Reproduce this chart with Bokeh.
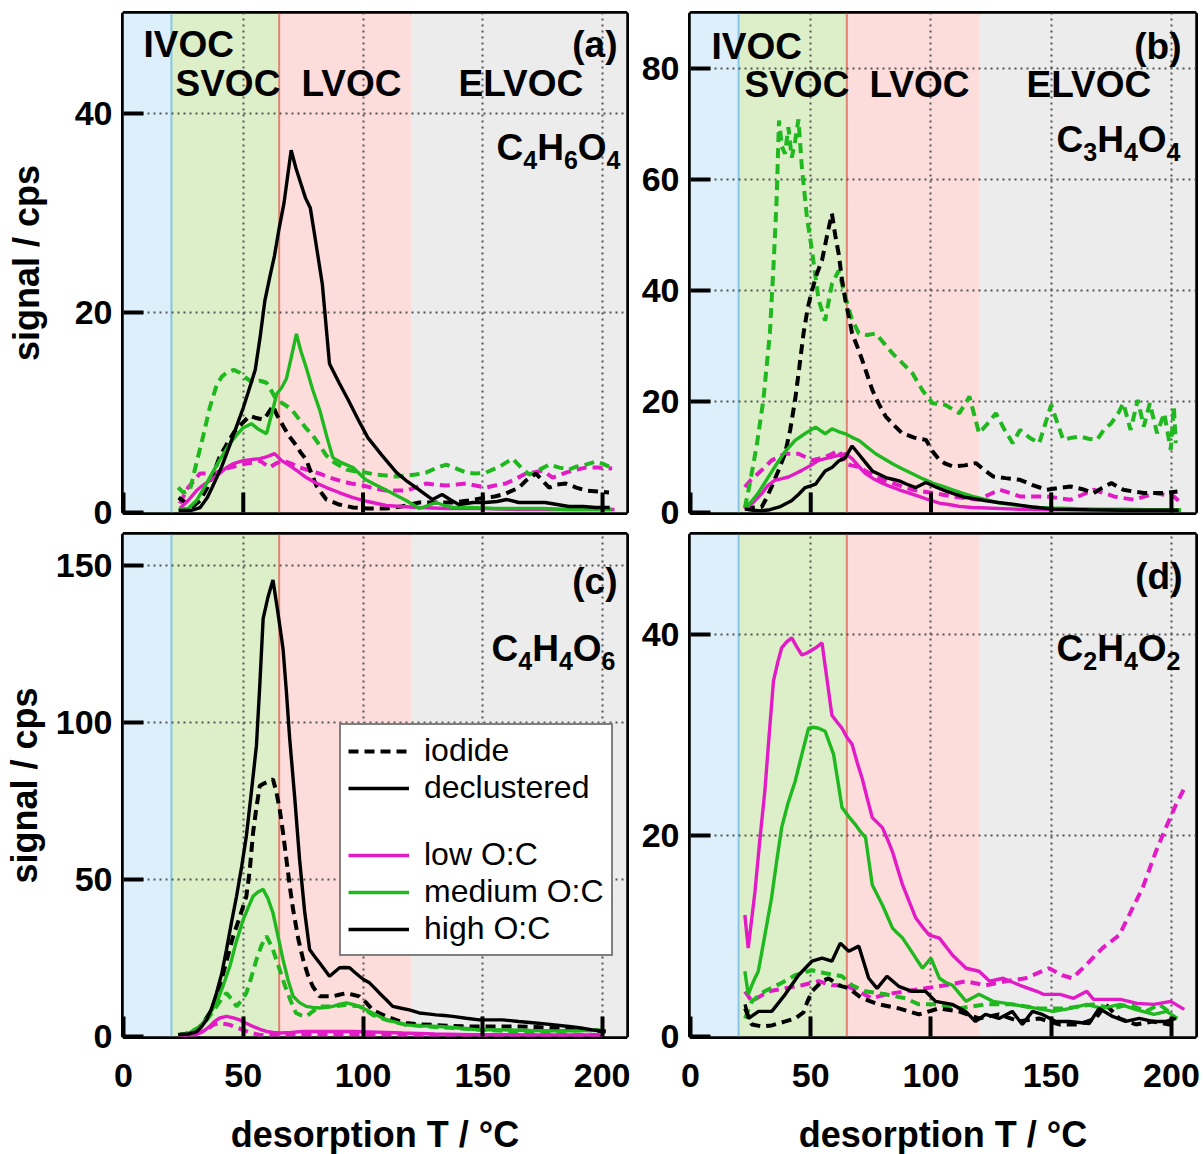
from bokeh.plotting import figure
from bokeh.models import Range1d, FixedTicker, Label, Legend, LegendItem
from bokeh.layouts import column, row
from bokeh.embed import file_html
from bokeh.resources import INLINE

FONT = "Liberation Sans"
MAGENTA = "#E31BC6"
GREEN = "#1FB81F"
BLACK = "#000000"

# volatility regions (desorption T, degC)
REGION_NAMES = ["IVOC", "SVOC", "LVOC", "ELVOC"]
REGION_LEFT = [0, 20, 65, 120]
REGION_RIGHT = [20, 65, 120, 210]
REGION_COLORS = ["#DCEFFB", "#DCEFC9", "#FDDCDC", "#ECECEC"]
BOUNDARY_T = [20, 65]
BOUNDARY_COLORS = ["#86C6E6", "#E0846F"]

X_TICKS = [0, 50, 100, 150, 200]

# ---------------- panel (a) C4H6O4 ----------------
A_LOW_IOD_T = [23.5, 27, 31.9, 37.4, 41, 44.4, 48, 51.3, 54, 56.9, 61, 63.5, 66.6, 70, 73.5, 78, 81.9, 86, 90.2, 95, 100, 105, 109.7, 114, 118, 122, 126.3, 130, 134.7, 139, 143, 147, 151.3, 155, 159.6, 164, 168, 171, 175, 179.2, 184.7, 189, 193, 198, 204]
A_LOW_IOD_S = [0.9, 2.5, 3.9, 3.9, 4.2, 4.5, 4.7, 4.9, 5.0, 5.2, 4.5, 4.9, 5.2, 4.9, 4.5, 4.2, 3.9, 3.5, 3.2, 2.9, 2.7, 2.4, 2.2, 2.2, 2.2, 2.5, 2.9, 2.8, 2.7, 2.8, 2.9, 2.7, 2.5, 2.7, 2.9, 3.4, 3.9, 4.0, 4.2, 3.5, 4.0, 4.3, 4.5, 4.5, 4.4]
A_MED_IOD_T = [22.8, 25, 27.7, 30, 33.3, 36, 38.8, 41, 43, 46, 48.5, 51, 54.1, 57, 59.7, 61.5, 63.8, 66, 68, 70.5, 73.5, 76, 79.1, 82, 84.7, 88, 93, 97, 101.3, 105, 109.7, 114, 118, 122, 126.3, 130, 134.7, 139, 143, 147, 151.3, 157, 162.4, 166, 169.4, 173, 177.7, 182, 186, 189, 193, 197.2, 200, 202.7]
A_MED_IOD_S = [2.5, 2.0, 2.2, 4.5, 7.7, 10.5, 12.7, 13.6, 14, 14.3, 14, 13.5, 13, 13.2, 13, 12.3, 11.3, 11, 10.7, 10.2, 9.3, 8.5, 7.7, 6.7, 5.7, 5.0, 4.3, 4.1, 4.0, 3.8, 3.7, 3.6, 3.7, 3.8, 4.0, 4.4, 4.8, 4.4, 4.0, 3.9, 4.0, 4.6, 5.4, 4.5, 3.8, 4.2, 4.8, 4.5, 4.3, 4.6, 4.8, 5.1, 4.9, 4.6]
A_HIGH_IOD_T = [23, 26, 29, 32, 35, 38, 40, 43, 46, 49, 52.7, 55, 58.3, 60, 62.4, 64, 66.6, 69, 72.2, 74, 76.3, 78, 80.5, 82.5, 84.7, 90, 95.8, 102, 109.7, 116, 123.5, 130, 137.4, 144, 151.3, 155, 159.6, 165.2, 168, 172.2, 177.7, 181, 184.7, 189, 193, 198, 202.7]
A_HIGH_IOD_S = [1.5, 1.0, 0.6, 1.2, 2.5, 4.2, 5.5, 6.8, 8.0, 8.8, 9.7, 9.5, 9.3, 9.8, 10.7, 9.8, 8.7, 7.7, 6.7, 6.0, 5.3, 4.2, 2.7, 2.0, 1.3, 0.8, 0.5, 0.4, 0.4, 0.6, 1.0, 1.0, 1.0, 1.2, 1.5, 1.6, 1.9, 2.5, 3.2, 3.9, 2.5, 2.8, 2.9, 2.5, 2.2, 2.1, 2.0]
A_LOW_DEC_T = [23.5, 27, 30.5, 33, 36, 40, 43, 46, 49.9, 53, 56.9, 60, 63.1, 66, 69.4, 73, 76.3, 80, 84.7, 90, 95.8, 102, 109.7, 116, 123.5, 135, 150, 165, 180, 195, 205]
A_LOW_DEC_S = [0.4, 1.2, 2.2, 2.7, 3.2, 3.9, 4.5, 4.9, 5.2, 5.3, 5.4, 5.6, 5.9, 5.2, 4.7, 4.1, 3.5, 3.0, 2.5, 2.0, 1.5, 1.1, 0.7, 0.6, 0.5, 0.4, 0.4, 0.3, 0.3, 0.3, 0.3]
A_MED_DEC_T = [23, 27, 30.5, 33, 36, 40, 44.4, 47, 50, 53.4, 56, 59.7, 62, 64, 66, 68, 70, 72.2, 74, 76.3, 79, 82, 85, 87.4, 91, 95.8, 101, 105, 110, 114, 118, 123.5, 127, 130.5, 134, 137.4, 145, 155, 165, 175, 185, 195, 204]
A_MED_DEC_S = [0.3, 0.4, 1.2, 2.2, 3.5, 5.2, 6.9, 7.7, 8.5, 8.9, 8.4, 7.9, 10, 11.9, 12.5, 13.4, 15.5, 17.9, 16.2, 14.5, 12.3, 10.2, 7.5, 5.5, 5, 4.5, 3.3, 2.8, 2.2, 1.7, 1.2, 0.4, 0.7, 1.0, 0.7, 0.5, 0.5, 0.4, 0.4, 0.4, 0.3, 0.3, 0.3]
A_HIGH_DEC_T = [23, 28, 32, 35, 37, 41, 44, 47, 50, 52, 55, 57, 59, 61, 63, 65, 67, 70, 72, 74, 76, 78, 80, 83, 86, 90, 94, 98, 102, 108, 114, 118, 121, 125, 129, 133, 137, 140, 146, 151, 156, 160, 165, 170, 176, 181, 186, 192, 197, 203]
A_HIGH_DEC_S = [0.2, 0.2, 0.5, 1.5, 2.5, 4.6, 6.5, 8.5, 10.5, 12, 14.3, 17.5, 21.2, 23.5, 25.7, 28.5, 31, 36.3, 34.5, 33, 31.5, 30.5, 27.5, 22.9, 14.9, 13, 11.2, 9.3, 7.5, 5.7, 4, 3.2, 2.7, 2, 1.3, 1.8, 1.2, 0.8, 1, 1, 1.1, 1.3, 1, 1, 1, 0.8, 0.6, 0.6, 0.5, 0.5]

# ---------------- panel (b) C3H4O4 ----------------
B_LOW_IOD_T = [22.6, 25, 28, 31, 33.7, 36.5, 39.3, 42, 44.9, 47.7, 50.5, 53.3, 56, 59, 61.6, 64.4, 67, 70, 73.5, 77, 80.5, 84, 88, 92.3, 96.5, 100.7, 105, 109, 114, 120, 124, 128.6, 133, 137, 142, 148, 153, 158, 163, 167.6, 172, 176, 180, 184.5, 189, 193, 197, 201, 204]
B_LOW_IOD_S = [4.6, 5.8, 7, 8.2, 9.4, 10, 10.6, 10.6, 10.6, 10, 9.4, 9.7, 10, 10.6, 11.2, 8.8, 8.5, 8.2, 7.3, 6.4, 5.8, 5.3, 4.7, 4.1, 3.8, 3.5, 3.2, 2.9, 2.6, 2.3, 3.2, 4.1, 3.5, 2.9, 2.9, 2.9, 2.6, 2.3, 3.2, 4.1, 3.5, 2.9, 2.6, 2.3, 2.9, 3.5, 3.2, 2.9, 1.7]
B_MED_IOD_T = [22.6, 24.7, 27.5, 30.3, 33, 34.5, 35.8, 36.8, 38, 39.3, 40.7, 42.1, 43.5, 44.9, 46.3, 48.4, 50.5, 53.3, 56, 58.8, 61.6, 64.4, 67, 70, 73.5, 77, 80.5, 84, 88, 92.3, 96.5, 100.7, 106, 111.8, 116, 120, 123.5, 127, 130.5, 134, 137, 141, 145, 150, 155, 158.5, 162, 165.5, 169, 172, 175, 178, 180, 183, 186, 188.5, 191, 194, 197, 199.7, 201, 201.8]
B_MED_IOD_S = [0.8, 5.3, 12, 20.3, 32.3, 44.3, 56.3, 70.7, 66, 64.7, 69.5, 64, 67, 70.9, 62.3, 53.3, 47.3, 38.3, 34.6, 41.2, 43.6, 38.9, 35, 32.3, 32, 32.3, 30.5, 28.7, 27, 25.1, 22, 19.7, 19.4, 17.9, 20.9, 14.3, 16, 17.9, 15, 12.5, 14.9, 13.5, 12.5, 19.4, 13.1, 13.5, 13.7, 13.3, 13.1, 15, 16.1, 18, 19.7, 14.9, 20.3, 15.5, 19.7, 14.3, 17.9, 11.3, 19.1, 12.5]
B_HIGH_IOD_T = [22.6, 26, 29.6, 31.5, 33.7, 36.5, 39.3, 41.5, 43.5, 45.2, 47, 48.8, 50.5, 52.5, 54.7, 56.8, 58.8, 60.2, 61.6, 63, 64.4, 66, 67.2, 69.3, 71.4, 73.5, 75.6, 78.4, 81.2, 84.5, 88, 93, 97.9, 100.7, 103.5, 106, 109, 114, 118.8, 122, 125.8, 131, 137, 142, 148, 153, 158, 163, 167.6, 171, 175, 180, 184, 188.5, 192, 195.5, 199, 202.5]
B_HIGH_IOD_S = [0.8, 0.9, 1, 2.5, 4.6, 7.5, 10.6, 15, 20.3, 26, 32.3, 37, 40, 43, 45.5, 50, 53.9, 50, 46.7, 42, 38.3, 35, 32.3, 30, 27.5, 24.8, 22.1, 19.5, 17.3, 15.8, 14.3, 13.5, 13.1, 11, 9.5, 8.8, 8.3, 8.5, 8.9, 7.7, 6.5, 6.2, 5.9, 5.0, 4.1, 4.4, 4.7, 4.2, 3.5, 4.4, 5.3, 4.1, 3.8, 3.5, 3.5, 3.5, 3.6, 3.8]
B_LOW_DEC_T = [22.6, 26, 29.6, 32, 35, 38, 40.7, 43.5, 46.3, 50, 53.3, 56, 58.8, 61.5, 64.4, 67.2, 70, 72.8, 76, 79.8, 83, 86.8, 91, 95, 99, 103.5, 108, 111.8, 117, 123, 135, 150, 165, 180, 195, 204]
B_LOW_DEC_S = [0.5, 1.8, 3.4, 4.8, 5.8, 6.1, 6.4, 7, 7.6, 8.5, 9.4, 9.7, 10, 10.3, 10.6, 9.7, 8.3, 7, 6.1, 5.3, 4.7, 4.1, 3.5, 2.9, 2.3, 1.7, 1.4, 1.1, 0.9, 0.8, 0.6, 0.5, 0.5, 0.4, 0.4, 0.4]
B_MED_DEC_T = [22.6, 25, 28, 31.5, 35, 39, 43.5, 47.5, 52, 56, 58.8, 61.5, 64.4, 67, 70, 73.5, 77, 80.5, 84, 88, 92.3, 96.5, 100.7, 105, 109, 113, 117.4, 123, 128.6, 134, 139.7, 145, 151, 160, 170, 180, 190, 200, 204]
B_MED_DEC_S = [0.8, 1.8, 3.4, 5.8, 8.2, 10.8, 13, 14.2, 15.4, 14.2, 15.1, 14.6, 14.2, 13.6, 13, 11.8, 10.6, 9.7, 8.8, 7.9, 7, 6.1, 5.3, 4.7, 4.1, 3.5, 2.9, 2.3, 1.7, 1.4, 1.1, 0.9, 0.8, 0.7, 0.6, 0.6, 0.5, 0.5, 0.5]
B_HIGH_DEC_T = [22.6, 26, 29.6, 33, 37, 42, 45, 47.7, 50, 52, 54, 56, 58.8, 61.6, 64.4, 67.2, 70, 72.8, 75.6, 78.4, 81.2, 84, 86.8, 90, 93.7, 97.9, 102, 106, 110, 114.6, 119, 123, 128, 134, 142, 151, 165, 180, 195, 203]
B_HIGH_DEC_S = [0.6, 0.4, 0.3, 0.5, 1.0, 2.1, 3.3, 4.5, 4.8, 5.1, 6.3, 7.5, 8.1, 9.3, 9.9, 12.0, 10.5, 9.0, 7.5, 6.9, 6.3, 6.0, 5.7, 5.1, 4.5, 5.4, 4.6, 3.9, 3.3, 2.7, 2.4, 2.1, 1.8, 1.5, 1.0, 0.6, 0.5, 0.4, 0.4, 0.4]

# ---------------- panel (c) C4H4O6 ----------------
C_LOW_IOD_T = [22.8, 30, 34.7, 37.4, 40.2, 42.5, 44.4, 47, 50, 53, 56.9, 62, 70, 85, 100, 120, 140, 160, 180, 200]
C_LOW_IOD_S = [0.3, 0.8, 2.1, 3.7, 4.3, 4.0, 3.7, 2.9, 2.1, 1.2, 0.5, 0.5, 0.6, 0.6, 0.6, 0.5, 0.5, 0.5, 0.5, 0.5]
C_MED_IOD_T = [22.8, 27, 31.9, 35.5, 38.8, 41, 43, 45, 47.2, 49.3, 51.3, 53.4, 55.5, 57.6, 59.7, 61, 62.4, 63.8, 65.2, 66.6, 68, 70, 72, 74, 76.3, 79, 81.9, 84.6, 87.4, 90, 93, 95.8, 98.5, 101.3, 104, 106.9, 109.7, 114, 118, 127, 137.4, 151, 165, 179, 193, 200]
C_MED_IOD_S = [0.5, 1, 3, 6, 9.6, 12, 13.9, 12, 9.6, 11.5, 13.9, 19, 24.5, 29, 32, 30, 27.7, 24.5, 21.3, 18, 14.9, 11, 7.5, 6.8, 6.4, 8, 9.6, 9.6, 9.6, 9.8, 10.1, 9.8, 9.6, 8.3, 6.9, 6.1, 5.3, 4.5, 3.7, 3.2, 2.7, 2.1, 1.6, 1.6, 2.1, 2.0]
C_HIGH_IOD_T = [22.8, 27, 30.5, 33, 36, 38, 40.2, 43, 45.8, 48.5, 51.3, 52.7, 54.1, 55.5, 56.9, 58.3, 59.7, 61, 62.4, 63.8, 65.2, 66.6, 68, 69.4, 70.8, 73, 75, 77, 79, 81.9, 84.6, 87.4, 90, 93, 95.8, 98.5, 101.3, 104, 106.9, 109.7, 114, 118, 123, 129, 136, 143, 151.3, 158, 165, 172, 179, 186, 193, 201.3]
C_HIGH_IOD_S = [0.5, 1, 2.1, 4, 7.5, 11, 16, 24, 32, 38, 44.7, 53, 65, 73, 79.9, 80.5, 81, 81.5, 82, 78, 72.5, 65, 56.5, 48, 40.5, 31, 24.5, 19.5, 16, 12.8, 12.8, 12.8, 13.3, 13.8, 13.3, 12.8, 10.8, 8.5, 7.4, 6.4, 5.2, 4.3, 3.9, 3.7, 3.4, 3.2, 3.2, 3.2, 3.2, 3.0, 2.7, 2.4, 2.1, 1.6]
C_LOW_DEC_T = [22.8, 30, 33, 36, 38, 40.2, 43, 45.5, 48.5, 51, 54.1, 57, 59.7, 62.5, 65.2, 70, 75, 85, 95.8, 106, 116.6, 130, 145, 160, 175, 190, 200]
C_LOW_DEC_S = [0.3, 0.5, 1.5, 3.2, 4.8, 5.9, 6.4, 6, 5.3, 4.3, 3.2, 2.3, 1.6, 1.3, 1.1, 1.3, 1.6, 1.6, 1.6, 1.4, 1.1, 0.8, 0.6, 0.6, 0.5, 0.5, 0.5]
C_MED_DEC_T = [22.8, 27, 31.9, 35, 38.8, 41.5, 44.4, 47, 50, 52, 54.1, 56, 58.3, 60.3, 62.4, 64.5, 66.6, 68.7, 70.8, 73.5, 76.3, 79, 81.9, 84.6, 87.4, 90, 93, 95.8, 98.5, 101.3, 104, 106.9, 109.7, 114, 118, 124, 131.8, 140, 148.5, 158, 170, 180, 190, 200]
C_MED_DEC_S = [0.5, 1, 3.2, 6, 10.7, 16, 22.4, 30, 37.3, 41, 44.7, 46, 46.9, 44, 39.4, 32, 24.5, 18, 12.8, 10.8, 9.6, 9.3, 9.1, 9.3, 9.6, 10.2, 10.7, 10.2, 9.6, 8.5, 7.5, 6.4, 5.3, 4.5, 3.7, 3.4, 3.2, 2.7, 2.1, 2.1, 1.9, 1.8, 1.8, 2.1]
C_HIGH_DEC_T = [22.8, 27, 30.5, 32.5, 34.7, 36.8, 38.8, 41, 43, 45, 47.2, 49.3, 51.3, 53.4, 55.5, 56.9, 58.3, 60.3, 62.4, 64.5, 66.6, 68, 69.4, 71.5, 73.5, 75.6, 77.7, 79.8, 81.9, 84, 86, 88, 90.2, 92.3, 94.4, 96.5, 98.5, 100.6, 102.7, 104.8, 106.9, 109.6, 112.4, 116, 119.3, 123.5, 127, 130.5, 134, 137.4, 143, 148.5, 153, 158.3, 165, 172, 179, 186, 191, 195.7, 201.3]
C_HIGH_DEC_S = [0.5, 0.8, 1.5, 3, 5.3, 9, 13.8, 20, 27.7, 36, 44.7, 54, 63.9, 78, 92.7, 112, 133.2, 140, 145.5, 135, 123.6, 110, 94.8, 76, 56.5, 40, 27.7, 25.5, 23.4, 21.3, 19.2, 20.5, 21.9, 22, 21.9, 20.5, 19.2, 18, 17.1, 15.5, 13.8, 11.8, 9.6, 9, 8.5, 7.5, 7.2, 6.9, 6.7, 6.4, 5.8, 5.3, 5.3, 5.3, 4.8, 4.3, 3.8, 3.2, 2.7, 2.1, 1.6]

# ---------------- panel (d) C2H4O2 ----------------
D_LOW_IOD_T = [22.7, 25.5, 32.4, 39.4, 46.3, 53.3, 58.8, 64.4, 69.9, 75.5, 81, 89.4, 97.7, 106, 114.4, 122.7, 131, 139.4, 149.1, 154.6, 158.8, 164.4, 171.3, 178.3, 182.4, 188, 193.5, 197.7, 201.9, 205.3]
D_LOW_IOD_S = [4.5, 3.5, 4.5, 4.8, 5.1, 5.5, 5.1, 5.1, 4.5, 3.8, 4.2, 4.5, 4.8, 5.1, 5.5, 5.1, 5.5, 5.8, 6.8, 6.1, 5.8, 7.1, 8.8, 10.1, 12.1, 14.8, 18.4, 20.8, 23.1, 24.7]
D_MED_IOD_T = [22.7, 25.5, 30.8, 37.6, 43.5, 50.5, 56, 63, 67.2, 72.7, 81, 89.4, 95, 103.3, 111.6, 122.7, 133.8, 145, 156, 167.1, 175.5, 182.4, 189.4, 194.9, 200.5]
D_MED_IOD_S = [1.8, 3.5, 4.5, 5.3, 6.1, 6.6, 6.3, 6.0, 5.1, 4.5, 4.2, 3.8, 3.2, 3.2, 2.8, 3.2, 3.2, 2.8, 2.8, 3.2, 2.8, 3.2, 2.5, 3.2, 2.2]
D_HIGH_IOD_T = [22.7, 25.5, 29.7, 33.8, 39.4, 43.5, 47, 48.5, 50.5, 54.7, 57.4, 61.6, 65.8, 71.3, 78.3, 86.6, 95, 103.3, 111.6, 120, 128.3, 136.6, 145, 153.3, 161.6, 168.5, 172.7, 178.3, 185.2, 192.2, 199, 201.9]
D_HIGH_IOD_S = [2.8, 1.2, 1.0, 1.1, 1.5, 1.8, 2.4, 3.4, 4.5, 5.5, 5.8, 5.1, 4.8, 3.8, 3.2, 2.8, 2.2, 2.8, 2.5, 1.8, 2.2, 1.5, 1.8, 1.2, 1.2, 1.8, 3.2, 1.8, 1.2, 1.5, 1.2, 1.5]
D_LOW_DEC_T = [22.6, 24, 26.8, 28.8, 30.9, 32.7, 34.5, 36.2, 37.9, 40, 42.1, 44.2, 46.3, 48.4, 50.5, 52.6, 54.7, 56.8, 58.8, 61, 63, 65, 67.2, 69.3, 71.4, 73.5, 75.6, 77.7, 79.8, 82, 84, 86, 88.2, 91, 93.7, 96.5, 99.3, 103.5, 109, 114.6, 120, 124.4, 130, 137, 144, 146.7, 153.7, 159.3, 164.8, 167.6, 173, 178.8, 185.7, 192.7, 199.7, 205.3]
D_LOW_DEC_S = [12.1, 8.8, 14.4, 19.5, 24.4, 30, 35.4, 37.2, 38.7, 39.3, 39.7, 38.8, 38, 38.2, 38.5, 38.8, 39.2, 35.5, 32, 31.3, 30.7, 29.8, 29.1, 27.3, 25.7, 23.7, 21.8, 21.3, 20.8, 19.6, 18.4, 16.8, 15.1, 13.4, 11.8, 10.9, 10.1, 9.8, 8.1, 6.8, 6.5, 5.5, 5.8, 5.1, 4.5, 4.2, 4.2, 3.8, 4.5, 3.7, 3.7, 3.7, 3.3, 3.2, 3.5, 2.7]
D_MED_DEC_T = [22.6, 24, 26, 28.2, 31, 33.7, 35.8, 37.9, 40.5, 43.5, 46.3, 49.1, 51, 53.3, 56, 59.5, 61.3, 63, 65.8, 68.6, 70.7, 72.8, 75.6, 77.7, 79.8, 82, 84, 86, 88.2, 91, 93.7, 96.5, 100, 103.5, 106, 109, 111.8, 114.6, 120, 125.8, 134, 144, 150.9, 158, 164.8, 171, 178.8, 185, 192.7, 198, 202.5]
D_MED_DEC_S = [6.5, 4.2, 5.4, 6.5, 10.2, 13.8, 17.4, 20.8, 23.2, 25.4, 28.1, 30.7, 30.8, 30.7, 30.4, 28.1, 25.4, 22.8, 21.9, 21.1, 20.4, 19.8, 15.1, 14.1, 13.1, 11.9, 10.8, 10.3, 9.8, 8.8, 7.8, 6.8, 7.8, 5.8, 5.4, 5.1, 4.3, 3.5, 4.2, 3.5, 3.2, 2.8, 2.5, 2.8, 3.2, 2.8, 3.2, 2.7, 2.2, 2.5, 1.8]
D_HIGH_DEC_T = [22.7, 24.1, 28.3, 33.8, 39.4, 44.9, 50.5, 54.7, 58.8, 62.3, 65.8, 70, 74.1, 77.6, 81.7, 86.6, 92.1, 97.7, 101.9, 108.8, 114.4, 118.5, 122.7, 128.3, 133.8, 138, 142.2, 146.3, 151.9, 157.4, 165.8, 169.9, 175.5, 181, 186.6, 192.2, 197.7, 201.9]
D_HIGH_DEC_S = [3.2, 1.8, 2.5, 2.5, 4.2, 6.1, 7.5, 7.8, 7.5, 9.3, 8.5, 9.0, 5.8, 4.8, 6.0, 5.0, 4.5, 4.5, 3.5, 3.2, 2.5, 1.5, 2.2, 1.8, 2.5, 1.2, 2.5, 2.2, 1.5, 1.5, 1.3, 2.8, 2.0, 1.5, 1.8, 1.5, 1.5, 1.8]

LEGEND_LABELS = ["iodide", "declustered", " ", "low O:C", "medium O:C", "high O:C"]

DASH = "10 6"
SOLID_W = 3.4
DASH_W = 4

WIDTHS = {"C": 0.722, "H": 0.722, "O": 0.778}
TICK_FONT = "34px"
TICK_LEN = 20


def make_fig(fw, fh, ymax, yticks, left, right, top, bottom, show_x, ylabel, ylabel_standoff):
    p = figure(frame_width=fw, frame_height=fh, x_range=Range1d(0, 210),
               y_range=Range1d(0, ymax), output_backend="svg", toolbar_location=None,
               min_border_left=left, min_border_right=right, min_border_top=top,
               min_border_bottom=bottom)
    p.background_fill_color = "white"
    p.border_fill_color = "white"
    p.outline_line_color = "black"
    p.outline_line_width = 5
    # volatility regions
    p.quad(left=REGION_LEFT, right=REGION_RIGHT, bottom=0, top=ymax,
           fill_color=REGION_COLORS, line_color=None, level="image")
    p.segment(x0=BOUNDARY_T, x1=BOUNDARY_T, y0=0, y1=ymax,
              line_color=BOUNDARY_COLORS, line_width=2, level="image")
    p.xaxis.ticker = FixedTicker(ticks=X_TICKS)
    p.yaxis.ticker = FixedTicker(ticks=yticks)
    for ax in (p.xaxis[0], p.yaxis[0]):
        ax.axis_line_color = None
        ax.major_tick_in = TICK_LEN
        ax.major_tick_out = 0
        ax.major_tick_line_width = 4
        ax.major_tick_line_color = "black"
        ax.minor_tick_line_color = None
        ax.major_label_text_font = FONT
        ax.major_label_text_font_style = "bold"
        ax.major_label_text_font_size = TICK_FONT
        ax.major_label_text_color = "black"
        ax.axis_label_text_font = FONT
        ax.axis_label_text_font_style = "bold"
        ax.axis_label_text_font_size = "36px"
        ax.axis_label_text_color = "black"
    p.yaxis.major_label_standoff = 11
    if ylabel:
        p.yaxis.axis_label = ylabel
        p.yaxis.axis_label_standoff = ylabel_standoff
    if show_x:
        p.xaxis.major_label_standoff = 27
        p.xaxis.axis_label = "desorption T / °C"
        p.xaxis.axis_label_standoff = 24
    else:
        # no tick labels on the upper panels: keep only the inner tick marks
        p.xaxis.visible = False
        tick_top = TICK_LEN * ymax / fh
        p.segment(x0=X_TICKS, x1=X_TICKS, y0=0, y1=tick_top,
                  line_color="black", line_width=4, level="overlay")
    for g in (p.xgrid[0], p.ygrid[0]):
        g.grid_line_color = "#555555"
        g.grid_line_width = 2
        g.grid_line_dash = "2 4"
    p.xgrid.ticker = FixedTicker(ticks=X_TICKS)
    p.ygrid.ticker = FixedTicker(ticks=yticks)
    p._fw = fw
    p._fh = fh
    p._ymax = ymax
    return p


def to_data(p, dx, dy):
    x = dx * 210.0 / p._fw
    y = p._ymax - dy * p._ymax / p._fh
    return x, y


def label(p, dx, dy, text, size=37, align="left"):
    # dy = vertical centre of the capitals, in px below the frame top
    x, y = to_data(p, dx, dy)
    p.add_layout(Label(x=x, y=y, text=text, text_font=FONT,
                       text_font_style="bold",
                       text_font_size=f"{size}px", text_align=align,
                       text_baseline="middle", text_color="black"))


def formula(p, dx_right, dy_mid, parts, main=37, sub=25):
    widths = []
    for t in parts:
        if t.isdigit():
            widths.append(0.556 * sub)
        else:
            widths.append(WIDTHS[t] * main)
    x = dx_right - sum(widths)
    for t, w in zip(parts, widths):
        if t.isdigit():
            label(p, x, dy_mid + 12, t, size=sub)
        else:
            label(p, x, dy_mid, t, size=main)
        x += w


def draw(p, series):
    out = []
    for T, S, color, dashed in series:
        if dashed:
            r = p.line(T, S, line_color=color, line_width=DASH_W, line_dash=DASH)
        else:
            r = p.line(T, S, line_color=color, line_width=SOLID_W)
        out.append(r)
    return out


def region_labels(p, dxs, dys):
    for name, dx, dy in zip(REGION_NAMES, dxs, dys):
        label(p, dx, dy, name)


# ---- panel a
pa = make_fig(503, 499, 50, [0, 20, 40], 123, 4, 13, 20, False, "signal / cps", 25)
draw(pa, [
    (A_LOW_IOD_T, A_LOW_IOD_S, MAGENTA, True),
    (A_MED_IOD_T, A_MED_IOD_S, GREEN, True),
    (A_HIGH_IOD_T, A_HIGH_IOD_S, BLACK, True),
    (A_LOW_DEC_T, A_LOW_DEC_S, MAGENTA, False),
    (A_MED_DEC_T, A_MED_DEC_S, GREEN, False),
    (A_HIGH_DEC_T, A_HIGH_DEC_S, BLACK, False),
])
region_labels(pa, [20, 52, 178, 335], [31, 70, 70, 70])
label(pa, 494, 31, "(a)", align="right")
formula(pa, 497, 134, ["C", "4", "H", "6", "O", "4"])

# ---- panel b
pb = make_fig(505, 499, 90, [0, 20, 40, 60, 80], 60, 8, 13, 20, False, None, 0)
draw(pb, [
    (B_LOW_IOD_T, B_LOW_IOD_S, MAGENTA, True),
    (B_MED_IOD_T, B_MED_IOD_S, GREEN, True),
    (B_HIGH_IOD_T, B_HIGH_IOD_S, BLACK, True),
    (B_LOW_DEC_T, B_LOW_DEC_S, MAGENTA, False),
    (B_MED_DEC_T, B_MED_DEC_S, GREEN, False),
    (B_HIGH_DEC_T, B_HIGH_DEC_S, BLACK, False),
])
region_labels(pb, [21, 54, 179, 336], [33, 71, 71, 71])
label(pb, 491, 33, "(b)", align="right")
formula(pb, 490, 126, ["C", "3", "H", "4", "O", "4"])

# ---- panel c
pc = make_fig(503, 502, 160, [0, 50, 100, 150], 123, 4, 2, 118, True, "signal / cps", 8)
rc = draw(pc, [
    (C_LOW_IOD_T, C_LOW_IOD_S, MAGENTA, True),
    (C_MED_IOD_T, C_MED_IOD_S, GREEN, True),
    (C_HIGH_IOD_T, C_HIGH_IOD_S, BLACK, True),
    (C_LOW_DEC_T, C_LOW_DEC_S, MAGENTA, False),
    (C_MED_DEC_T, C_MED_DEC_S, GREEN, False),
    (C_HIGH_DEC_T, C_HIGH_DEC_S, BLACK, False),
])
label(pc, 494, 47, "(c)", align="right")
formula(pc, 492, 114, ["C", "4", "H", "4", "O", "6"])

leg_gap = pc.line([], [], line_color="white", line_alpha=0, line_width=4)
legend_renderers = [rc[2], rc[5], leg_gap, rc[3], rc[4], rc[5]]
legend = Legend(items=[LegendItem(label=l, renderers=[r]) for l, r in zip(
    LEGEND_LABELS, legend_renderers)], location=(216, 80))
legend.label_text_font = FONT
legend.label_text_font_size = "32px"
legend.label_text_color = "black"
legend.glyph_width = 61
legend.glyph_height = 30
legend.label_height = 30
legend.spacing = 0
legend.padding = 7
legend.margin = 0
legend.label_standoff = 15
legend.border_line_color = "black"
legend.border_line_width = 2.5
legend.background_fill_color = "white"
legend.background_fill_alpha = 1.0
pc.add_layout(legend)

# ---- panel d
pd_ = make_fig(505, 502, 50, [0, 20, 40], 60, 8, 2, 118, True, None, 0)
draw(pd_, [
    (D_LOW_IOD_T, D_LOW_IOD_S, MAGENTA, True),
    (D_MED_IOD_T, D_MED_IOD_S, GREEN, True),
    (D_HIGH_IOD_T, D_HIGH_IOD_S, BLACK, True),
    (D_LOW_DEC_T, D_LOW_DEC_S, MAGENTA, False),
    (D_MED_DEC_T, D_MED_DEC_S, GREEN, False),
    (D_HIGH_DEC_T, D_HIGH_DEC_S, BLACK, False),
])
label(pd_, 492, 42, "(d)", align="right")
formula(pd_, 490, 114, ["C", "2", "H", "4", "O", "2"])

layout = column(row(pa, pb), row(pc, pd_))
open("out.html", "w").write(file_html(layout, INLINE))
